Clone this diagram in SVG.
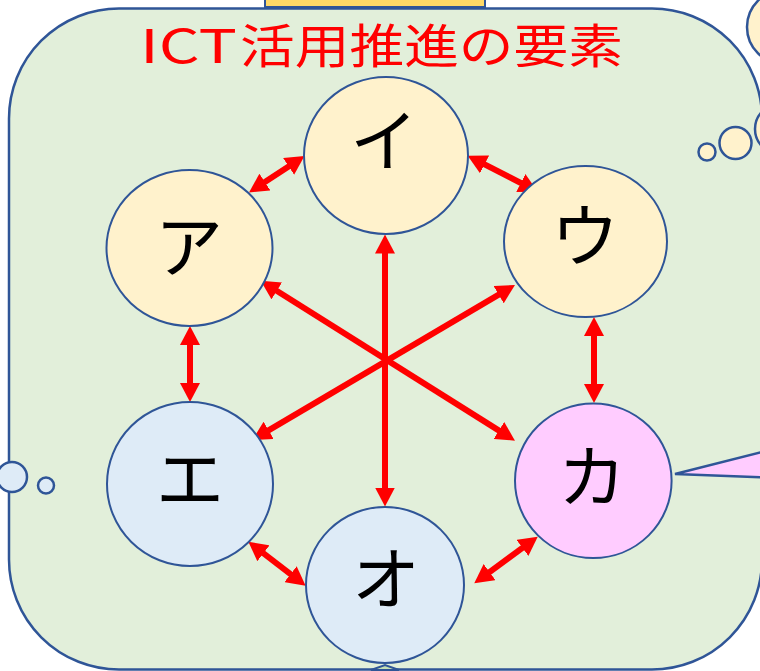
<svg xmlns="http://www.w3.org/2000/svg" width="760" height="671" viewBox="0 0 760 671">
<defs>
<style>
.frame{fill:#E2EFDA;stroke:#2F5597;stroke-width:2.5}
.node{stroke:#2F5597;stroke-width:2}
.cream{fill:#FFF2CC}
.blue{fill:#DEEBF7}
.pink{fill:#FFCCFF}
.bub{stroke:#2F5597;stroke-width:2.5}
.lbl{font-family:"Noto Sans CJK JP","Noto Sans",sans-serif;font-size:68px;fill:#000;text-anchor:middle}
.title{font-family:"Noto Sans CJK JP","Noto Sans",sans-serif;font-size:47px;fill:#FF0000}
.arr{stroke:#FF0000;stroke-width:6;fill:none;marker-start:url(#ah);marker-end:url(#ah)}
</style>
<marker id="ah" markerUnits="userSpaceOnUse" markerWidth="19" markerHeight="20" refX="11" refY="10" orient="auto-start-reverse" viewBox="0 0 19 20">
<path d="M0,0 L19,10 L0,20 z" fill="#FF0000"/>
</marker>
</defs>
<rect x="0" y="0" width="760" height="671" fill="#FFFFFF"/>
<g id="frame">
<rect class="frame" x="9" y="8.5" width="753" height="661" rx="110" ry="110"/>
<rect x="265" y="-3" width="220" height="10" fill="#FFD966" stroke="#2F5597" stroke-width="2"/>
<polygon points="371,670 385,665 399,670" fill="#C5E0B4" stroke="#2F5597" stroke-width="2"/>
</g>
<g id="bubbles">
<circle class="bub cream" cx="784" cy="27" r="37"/>
<circle class="bub cream" cx="780" cy="129" r="25"/>
<circle class="bub cream" cx="735.5" cy="143" r="16"/>
<circle class="bub cream" cx="707" cy="152" r="8.5"/>
<circle class="bub blue" cx="12" cy="477" r="15"/>
<circle class="bub blue" cx="46" cy="485.5" r="8"/>
<polygon points="675,474 764,451.5 764,477.5" fill="#FFCCFF" stroke="#2F5597" stroke-width="2.5" stroke-linejoin="miter"/>
</g>
<g id="title">
<text class="title" x="140" y="63" textLength="97" lengthAdjust="spacingAndGlyphs">ICT</text>
<text class="title" x="240" y="63" textLength="383" lengthAdjust="spacingAndGlyphs">活用推進の要素</text>
</g>
<g id="connectors">
<path class="arr" d="M255.7,188.1 L297.8,160.4"/>
<path class="arr" d="M474.8,159.4 L530.6,188"/>
<path class="arr" d="M190,334 L190,394"/>
<path class="arr" d="M594,325 L594,395"/>
<path class="arr" d="M254.7,546.6 L299.3,580.8"/>
<path class="arr" d="M480.7,578.6 L531.3,541.4"/>
<path class="arr" d="M385,242.5 L385,498.5"/>
<path class="arr" d="M267.5,285 L508.2,436.4"/>
<path class="arr" d="M508.1,289.1 L259.2,435.9"/>
</g>
<g id="node-i">
<ellipse class="node cream" cx="386" cy="155.5" rx="82" ry="78.5"/>
<text class="lbl" x="384" y="166">イ</text>
</g>
<g id="node-a">
<ellipse class="node cream" cx="189.5" cy="248" rx="83" ry="78"/>
<text class="lbl" x="189" y="272">ア</text>
</g>
<g id="node-u">
<ellipse class="node cream" cx="585.5" cy="241.5" rx="81.5" ry="75.5"/>
<text class="lbl" x="585" y="261">ウ</text>
</g>
<g id="node-e">
<ellipse class="node blue" cx="190" cy="484" rx="83" ry="82"/>
<text class="lbl" x="190" y="504">エ</text>
</g>
<g id="node-o">
<ellipse class="node blue" cx="385" cy="585" rx="79" ry="78"/>
<text class="lbl" x="386" y="604">オ</text>
</g>
<g id="node-ka">
<ellipse class="node pink" cx="593.3" cy="480.7" rx="78.3" ry="77.3"/>
<text class="lbl" x="592" y="502">カ</text>
</g>
</svg>
